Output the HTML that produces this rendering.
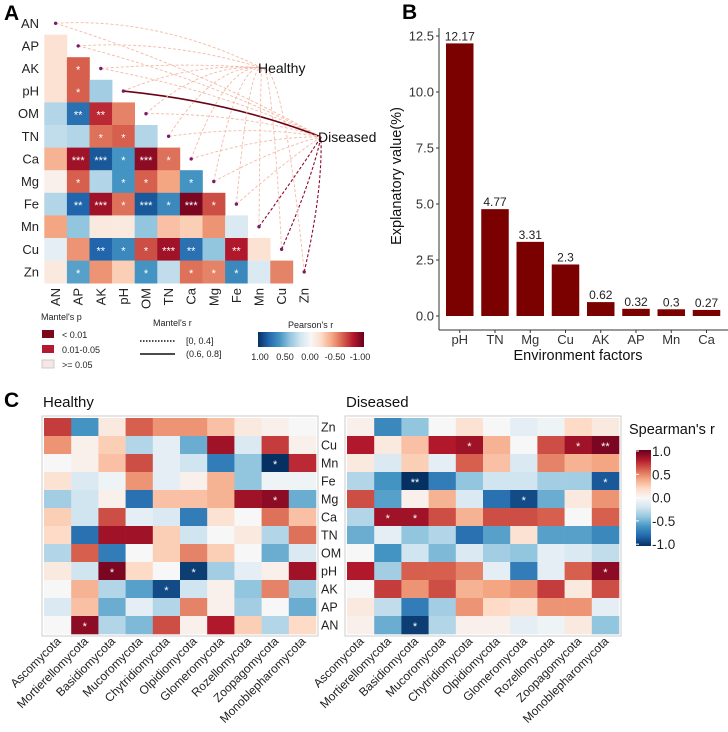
<!DOCTYPE html>
<html><head><meta charset="utf-8"><style>
body{margin:0;background:#fff}
svg{display:block;font-family:"Liberation Sans",Arial,sans-serif}
</style></head><body>
<svg id="fig" width="728" height="732" viewBox="0 0 728 732"></svg>
<script>
// ---------- DATA ----------
const varsA = ["AN","AP","AK","pH","OM","TN","Ca","Mg","Fe","Mn","Cu","Zn"];
// Lower-triangle Pearson's r (row i, cols 0..i-1)
const pearsonRows = [
 [],
 [-0.15],
 [-0.15,-0.6],
 [-0.15,-0.6,0.35],
 [0.3,0.75,-0.75,-0.5],
 [0.25,0.3,-0.55,-0.6,0.3],
 [-0.35,-0.85,0.85,0.6,-0.9,-0.55],
 [-0.05,-0.6,0.3,0.6,-0.6,-0.4,0.6],
 [0.3,0.8,-0.85,-0.55,0.85,0.65,-0.95,-0.65],
 [-0.4,0.4,-0.1,-0.1,0.4,-0.3,-0.25,-0.45,0.15],
 [0.1,-0.45,0.8,0.65,-0.65,-0.85,0.75,0.4,-0.8,-0.15],
 [-0.1,0.55,-0.45,-0.25,0.6,0.25,-0.55,-0.5,0.65,0.15,-0.5]
];
const pearsonStars = [
 [],[""],["","*"],["","*",""],["","**","**",""],["","","*","*",""],
 ["","***","***","*","***","*"],["","*","","*","*","","*"],
 ["","**","***","*","***","*","***","*"],["","","","","","","","",""],
 ["","","**","*","*","***","**","","**",""],["","*","","","*","","*","*","*","",""]
];
// Mantel links to Diseased: 0 weak/light, 1 dark dashed, 2 solid strong
const mantelDiseased = [0,0,0,2,0,0,0,0,0,1,1,1];
const factorsB = ["pH","TN","Mg","Cu","AK","AP","Mn","Ca"];
const valuesB = [12.17,4.77,3.31,2.3,0.62,0.32,0.3,0.27];
const ticksB = [0,2.5,5,7.5,10,12.5];
const tickLabelsB = ["0.0","2.5","5.0","7.5","10.0","12.5"];
const phyla = ["Ascomycota","Mortierellomycota","Basidiomycota","Mucoromycota","Chytridiomycota","Olpidiomycota","Glomeromycota","Rozellomycota","Zoopagomycota","Monoblepharomycota"];
const rowsC = ["Zn","Cu","Mn","Fe","Mg","Ca","TN","OM","pH","AK","AP","AN"];
const healthyVals = [
 [0.7,-0.6,0.1,0.6,0.45,0.45,0.3,0.1,0.05,0.0],
 [0.45,0.05,0.25,-0.3,-0.1,-0.5,0.85,-0.15,0.7,0.05],
 [0.0,0.05,0.3,0.65,-0.1,-0.2,-0.7,-0.4,-1.0,0.75],
 [0.15,-0.15,-0.05,0.45,-0.1,0.05,0.35,-0.4,-0.05,-0.05],
 [-0.35,-0.2,0.05,-0.75,0.3,0.3,0.35,0.85,0.9,-0.5],
 [0.25,-0.2,0.65,-0.1,-0.15,-0.7,0.15,0.0,0.55,0.3],
 [0.2,-0.75,0.85,0.85,0.25,-0.2,0.0,0.1,-0.3,0.55],
 [-0.3,0.6,-0.7,0.0,0.25,0.5,0.25,0.0,-0.5,-0.15],
 [0.1,-0.2,0.95,0.2,0.0,-0.95,-0.35,-0.1,0.05,0.85],
 [0.0,0.35,-0.3,-0.55,-0.9,-0.2,0.05,-0.4,0.5,-0.35],
 [-0.15,0.3,-0.5,-0.1,-0.3,0.5,0.05,-0.35,0.0,-0.5],
 [0.0,0.9,-0.3,-0.45,0.65,0.05,0.8,0.25,-0.3,0.2]
];
const healthyStars = {"2,8":"*","4,8":"*","8,2":"*","8,5":"*","9,4":"*","11,1":"*"};
const diseasedVals = [
 [0.05,-0.65,-0.4,0.0,0.15,0.0,-0.1,-0.05,0.2,0.1],
 [0.8,0.1,0.3,0.8,0.85,0.35,0.0,0.65,0.85,0.95],
 [0.1,-0.15,0.25,-0.1,0.6,0.3,-0.15,0.5,0.35,0.4],
 [-0.3,-0.6,-1.0,-0.7,-0.4,-0.2,-0.2,-0.35,-0.35,-0.85],
 [0.65,-0.55,0.05,0.35,-0.15,-0.75,-0.9,-0.5,0.1,0.45],
 [-0.3,0.85,0.85,0.65,0.35,0.65,0.65,0.6,0.0,0.6],
 [-0.5,-0.1,-0.4,-0.3,-0.75,-0.55,0.15,-0.55,-0.55,-0.65],
 [0.0,-0.6,-0.2,-0.45,-0.15,-0.35,-0.4,-0.1,-0.15,-0.25],
 [0.8,-0.35,0.6,0.6,0.5,-0.1,-0.7,-0.1,0.6,0.9],
 [0.0,0.7,0.45,0.65,0.35,0.4,0.45,0.7,0.1,0.65],
 [0.1,-0.25,-0.7,-0.35,0.45,0.2,0.15,0.45,0.45,-0.1],
 [0.05,-0.5,-0.95,-0.3,0.05,0.05,-0.1,-0.05,0.1,-0.4]
];
const diseasedStars = {"1,4":"*","1,8":"*","1,9":"**","3,2":"**","3,9":"*","4,6":"*","5,1":"*","5,2":"*","8,9":"*","11,2":"*"};

// ---------- HELPERS ----------
const NS="http://www.w3.org/2000/svg";
const svg=document.getElementById("fig");
function mk(tag,attrs,parent,text){const e=document.createElementNS(NS,tag);for(const k in attrs)e.setAttribute(k,attrs[k]);if(text!==undefined)e.textContent=text;(parent||svg).appendChild(e);return e;}
const pal=["#67001f","#b2182b","#d6604d","#f4a582","#fddbc7","#f7f7f7","#d1e5f0","#92c5de","#4393c3","#2166ac","#053061"];
function hex(h){return [1,3,5].map(i=>parseInt(h.substr(i,2),16));}
// v: +1 = red, -1 = blue
function rdbu(v){v=Math.max(-1,Math.min(1,v));const t=(1-v)/2*10;const i=Math.min(9,Math.floor(t));const f=t-i;const a=hex(pal[i]),b=hex(pal[i+1]);return "rgb("+a.map((c,k)=>Math.round(c+(b[k]-c)*f)).join(",")+")";}

// ---------- PANEL A ----------
const gA=mk("g",{});
mk("text",{x:4,y:20,"font-size":21,"font-weight":"bold"},gA,"A");
const cs=22.6, x0=44.3, y0=12;
const cx=j=>x0+cs*j+cs/2, cy=i=>y0+cs*i+cs/2;
const healthyAnchor=[262,68], diseasedAnchor=[321,137];
// links
const gL=mk("g",{},gA);
for(let i=0;i<12;i++){
  const px=cx(i), py=cy(i);
  let [hx,hy]=healthyAnchor;
  let p=mk("path",{d:`M${px},${py} Q${(px+hx)/2},${Math.min(py,hy)-6} ${hx},${hy}`,fill:"none",stroke:"#f5b9a6","stroke-width":0.9,"stroke-dasharray":"3,2"},gL);
  
  
  const [dx,dy]=diseasedAnchor;
  const m=mantelDiseased[i];
  const col=m===0?"#f5b9a6":"#8b0a2a";
  const q=mk("path",{d:`M${px},${py} Q${(px+dx)/2+10},${(py+dy)/2-12} ${dx},${dy}`,fill:"none",stroke:m===2?"#6a0015":col,"stroke-width":m===2?1.6:(m===1?1.1:0.9),"stroke-dasharray":m===2?"none":"3,2"},gL);
  
  
}
// cells
for(let i=1;i<12;i++){for(let j=0;j<i;j++){
  const r=mk("rect",{x:x0+cs*j,y:y0+cs*i,width:cs+0.3,height:cs+0.3,fill:rdbu(-pearsonRows[i][j])},gA);
  
  
  const s=pearsonStars[i][j];
  if(s){mk("text",{x:cx(j),y:cy(i)+5,"text-anchor":"middle","font-size":11,fill:"#fff"},gA,s);}
}}
// dots and labels
for(let i=0;i<12;i++){
  const d=mk("circle",{cx:cx(i),cy:cy(i),r:1.7,fill:"#7a1a6a"},gA);
  
  
  const t=mk("text",{x:39,y:cy(i)+4.5,"text-anchor":"end","font-size":13,fill:"#222"},gA,varsA[i]);
  
  
  const b=mk("text",{x:0,y:0,"text-anchor":"end","font-size":13,fill:"#222",transform:`translate(${cx(i)+4.5},${288}) rotate(-90)`},gA,varsA[i]);
  
  
}
mk("text",{x:258,y:73,"font-size":14,fill:"#111",},gA,"Healthy");
mk("text",{x:318,y:142,"font-size":14,fill:"#111",},gA,"Diseased");
// legends A
const gLA=mk("g",{},gA);
mk("text",{x:41,y:320,"font-size":9,fill:"#222"},gLA,"Mantel's p");
[["#7a0a1a","< 0.01",330],["#b5192f","0.01-0.05",345],["#f6e6e6",">= 0.05",360]].forEach(([c,l,y])=>{
  mk("rect",{x:42,y:y,width:12,height:8,fill:c,stroke:c==="#f6e6e6"?"#ccc":"none"},gLA);
  mk("text",{x:62,y:y+8,"font-size":9,fill:"#222"},gLA,l);
});
mk("text",{x:153,y:326,"font-size":9,fill:"#222"},gLA,"Mantel's r");
mk("line",{x1:140,y1:341,x2:175,y2:341,stroke:"#111","stroke-width":1.4,"stroke-dasharray":"1.5,1.5"},gLA);
mk("line",{x1:140,y1:354,x2:175,y2:354,stroke:"#111","stroke-width":1.6},gLA);
mk("text",{x:186,y:344,"font-size":9,fill:"#222"},gLA,"[0, 0.4]");
mk("text",{x:186,y:357,"font-size":9,fill:"#222"},gLA,"(0.6, 0.8]");
mk("text",{x:288,y:328,"font-size":9,fill:"#222"},gLA,"Pearson's r");
const defs=mk("defs",{});
const lg=mk("linearGradient",{id:"pg",x1:0,y1:0,x2:1,y2:0},defs);
for(let k=0;k<=10;k++)mk("stop",{offset:k/10,"stop-color":rdbu(-1+k/5)},lg);
mk("rect",{x:258,y:332,width:106,height:15,fill:"url(#pg)"},gLA);
["1.00","0.50","0.00","-0.50","-1.00"].forEach((l,k)=>mk("text",{x:260+k*25,y:360,"text-anchor":"middle","font-size":9,fill:"#222"},gLA,l));

// ---------- PANEL B ----------
const gB=mk("g",{});
mk("text",{x:402,y:19,"font-size":21,"font-weight":"bold"},gB,"B");
const bx0=439, bx1=726, by0=316, pxU=22.4;
const ys=v=>by0-v*pxU;
const step=(bx1-bx0-5)/factorsB.length, bw=27.5;
mk("line",{x1:bx0,y1:28,x2:bx0,y2:330,stroke:"#333","stroke-width":1},gB);
mk("line",{x1:bx0,y1:330,x2:728,y2:330,stroke:"#333","stroke-width":1},gB);
ticksB.forEach((t,k)=>{
  mk("line",{x1:bx0-3,y1:ys(t),x2:bx0,y2:ys(t),stroke:"#333"},gB);
  mk("text",{x:bx0-5,y:ys(t)+4.5,"text-anchor":"end","font-size":13,fill:"#333"},gB,tickLabelsB[k]);
});
factorsB.forEach((f,k)=>{
  const c=bx0+7+step*k+bw/2;
  const r=mk("rect",{x:c-bw/2,y:ys(valuesB[k]),width:bw,height:valuesB[k]*pxU,fill:"#7b0000"},gB);
  
  
  mk("text",{x:c,y:ys(valuesB[k])-3,"text-anchor":"middle","font-size":12,fill:"#222"},gB,String(valuesB[k]));
  mk("line",{x1:c,y1:330,x2:c,y2:333,stroke:"#333"},gB);
  mk("text",{x:c,y:344,"text-anchor":"middle","font-size":13,fill:"#333"},gB,f);
});
mk("text",{x:548+30,y:360,"text-anchor":"middle","font-size":14.5,fill:"#111",},gB,"Environment factors");
mk("text",{x:0,y:0,"text-anchor":"middle","font-size":14.5,fill:"#111",transform:"translate(401,176) rotate(-90)",},gB,"Explanatory value(%)");

// ---------- PANEL C ----------
const gC=mk("g",{});
mk("text",{x:4,y:407,"font-size":21,"font-weight":"bold"},gC,"C");
const cw=27.2, ch=18, cy0=418;
function heat(name,title,vals,stars,xl,showRows){
  const g=mk("g",{},gC);
  mk("text",{x:xl-1,y:407,"font-size":15,fill:"#111"},g,title);
  mk("rect",{x:xl-2,y:cy0-2,width:cw*10+4,height:ch*12+4,fill:"none",stroke:"#ccc"},g);
  vals.forEach((row,i)=>row.forEach((v,j)=>{
    const r=mk("rect",{x:xl+cw*j,y:cy0+ch*i,width:cw+0.3,height:ch+0.3,fill:rdbu(v)},g);
    
    
    const s=stars[i+","+j];
    if(s)mk("text",{x:xl+cw*j+cw/2,y:cy0+ch*i+ch/2+5,"text-anchor":"middle","font-size":11,fill:"#fff"},g,s);
  }));
  if(showRows)rowsC.forEach((r,i)=>mk("text",{x:xl+cw*10+5,y:cy0+ch*i+ch/2+4.5,"font-size":12.5,fill:"#222"},g,r));
  phyla.forEach((p,j)=>mk("text",{x:0,y:0,"text-anchor":"end","font-size":12,fill:"#222",transform:`translate(${xl+cw*j+cw/2+4},${cy0+ch*12+8}) rotate(-45)`},g,p));
}
heat("heatmap-healthy","Healthy",healthyVals,healthyStars,44,true);
heat("heatmap-diseased","Diseased",diseasedVals,diseasedStars,347,false);
// Spearman legend
const gS=mk("g",{},gC);
mk("text",{x:629,y:434,"font-size":14.5,fill:"#111"},gS,"Spearman's r");
const lg2=mk("linearGradient",{id:"sg",x1:0,y1:0,x2:0,y2:1},defs);
for(let k=0;k<=10;k++)mk("stop",{offset:k/10,"stop-color":rdbu(1-k/5)},lg2);
mk("rect",{x:636,y:450,width:15,height:96,fill:"url(#sg)"},gS);
["1.0","0.5","0.0","-0.5","-1.0"].forEach((l,k)=>{
  const y=451+k*23.3;
  mk("line",{x1:636,y1:y,x2:639,y2:y,stroke:"#fff"},gS);
  mk("text",{x:652,y:y+5,"font-size":13.5,fill:"#222"},gS,l);
});
</script>
</body></html>
